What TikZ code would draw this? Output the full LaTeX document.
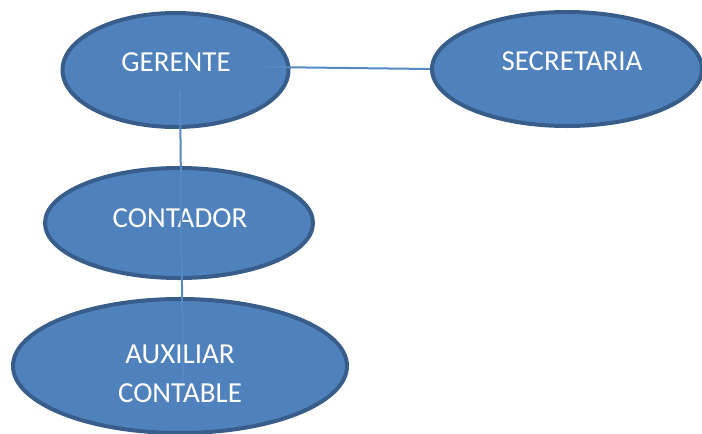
\documentclass[tikz,border=0pt]{standalone}
\usepackage{fontspec}
\setmainfont{Carlito}
\usetikzlibrary{shapes.geometric}

\begin{document}
\begin{tikzpicture}[x=0.5pt,y=-0.5pt,
every node/.style={
align = center,
anchor=center,
inner sep=0pt,
},
box/.style={
ellipse,
draw=boxborder,
line width=2pt,
fill=boxfill,
},
txt/.style={
text=white,
font=\fontsize{14.5}{19.5}\selectfont,
},
link/.style={
draw=linkcolor,
line width=1pt,
}]
\definecolor{boxfill}{HTML}{4F81BD}
\definecolor{boxborder}{HTML}{385D8A}
\definecolor{linkcolor}{HTML}{5689C4}
\useasboundingbox (0,0) rectangle (702,434);

%Gerente
\node[box,minimum width=113pt,minimum height=57pt] (gerente) at (175.5,70){};
\node[txt] (tgerente) at (176,62){GERENTE};
%Secretaria
\node[box,minimum width=135pt,minimum height=57pt] (secretaria) at (567,69){};
\node[txt] (tsecretaria) at (572,61){SECRETARIA};
%Contador
\node[box,minimum width=134pt,minimum height=55pt] (contador) at (179,223){};
\node[txt] (tcontador) at (180,218){CONTADOR};
%Auxiliar contable
\node[box,minimum width=167pt,minimum height=67pt] (auxiliar) at (180,366){};
\node[txt] (tauxiliar) at (180,373.5){AUXILIAR\\CONTABLE};

%lines
\draw[link] ([shift={(89.5,-3)}]gerente.center) -- (secretaria.west);
\draw[link] ([shift={(4.5,20)}]gerente.center) -- ([shift={(3,17)}]auxiliar.center);
\end{tikzpicture}
\end{document}
